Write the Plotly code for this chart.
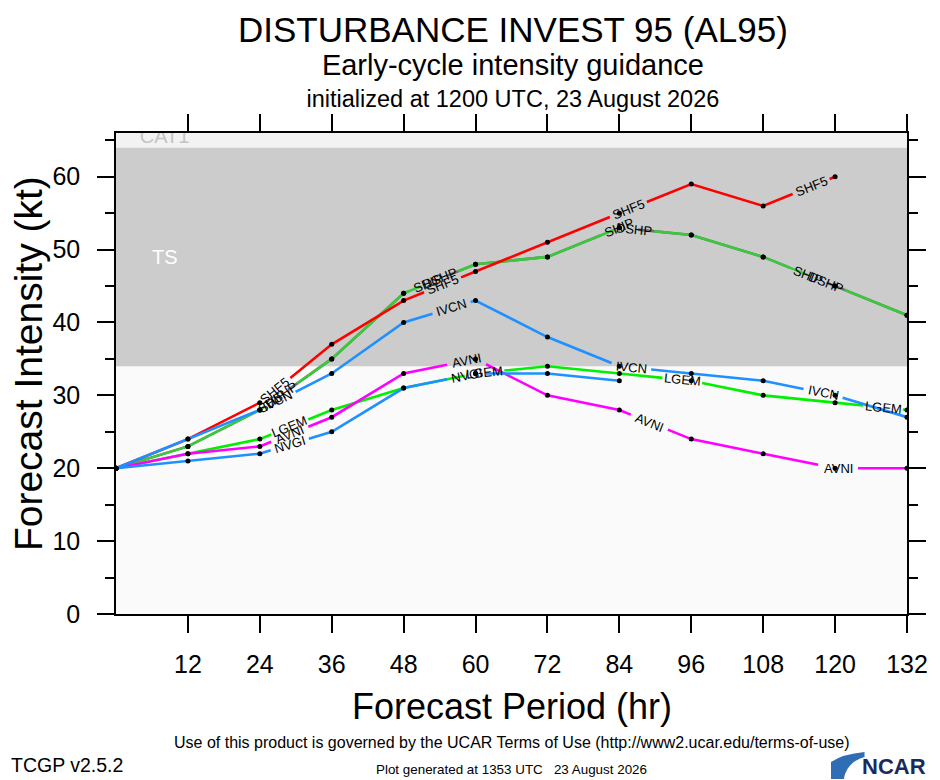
import math
import numpy as np
import plotly.graph_objects as go

# ---- data ----
hours = [0, 12, 24, 36, 48, 60, 72, 84, 96, 108, 120, 132]

ship = [20, 23, 28, 35, 44, 48, 49, 53, 52, 49, 45, 41]
dshp = [20, 23, 28, 35, 44, 48, 49, 53, 52, 49, 45, 41]
lgem = [20, 22, 24, 28, 31, 33, 34, 33, 32, 30, 29, 28]
shf5 = [20, 24, 29, 37, 43, 47, 51, 55, 59, 56, 60, None]
avni = [20, 22, 23, 27, 33, 35, 30, 28, 24, 22, 20, 20]
nvgi = [20, 21, 22, 25, 31, 33, 33, 32, None, None, None, None]
ivcn = [20, 24, 28, 33, 40, 43, 38, 34, 33, 32, 30, 27]

xticks = [12, 24, 36, 48, 60, 72, 84, 96, 108, 120, 132]

# intensity bands (kt)
band_lo = [0, 34, 64]
band_hi = [34, 64, 83]
band_names = ["", "TS", "CAT1"]
band_colors = ["#fafafa", "#cccccc", "#f2f2f2"]

# ---- geometry (page pixels; the page puts the figure 8px in from the corner) ----
OFF = 8
W, H = 940 - OFF, 780 - OFF
L, R, T, B = 116 - OFF, 23, 133 - OFF, 166
XMAX, YMAX = 132, 66
PW, PH = W - L - R, H - T - B
PXH = PW / XMAX   # pixels per hour
PXK = PH / YMAX   # pixels per knot
FONT = "Liberation Sans, Arial, Helvetica, sans-serif"
LABEL_SIZE = 13


def paper_x(X):
    return (X - OFF - L) / PW


def paper_y(Y):
    return (H - B - (Y - OFF)) / PH


def gapped(h, v, label_hours, text):
    """line with breaks where the text labels sit, plus label placement"""
    pts = [(a, b) for a, b in zip(h, v) if b is not None]
    h = np.array([p[0] for p in pts], float)
    v = np.array([p[1] for p in pts], float)
    gap = 0.66 * LABEL_SIZE * len(text) + 6
    cuts, labels = [], []
    for hc in label_hours:
        i = min(max(int(np.searchsorted(h, hc)), 1), len(h) - 1)
        slope = (v[i] - v[i - 1]) * PXK / ((h[i] - h[i - 1]) * PXH)
        th = math.atan(slope)
        dh = gap / 2 * math.cos(th) / PXH
        cuts.append((hc - dh, min(hc + dh, h[-1])))
        labels.append((hc, float(np.interp(hc, h, v)), -math.degrees(th)))
    xs, ys = [], []
    start = h[0]
    for a, b in cuts + [(h[-1], None)]:
        seg = [start] + [k for k in h if start < k < a] + [a]
        xs += seg + [None]
        ys += list(np.interp(seg, h, v)) + [None]
        start = b
    return xs, ys, labels


# name, values, colour, label positions (hr)
series = [
    ("SHIP", ship, "#6e6e6e", [26.0, 52.0, 84.0, 115.5]),
    ("DSHP", dshp, "#3cc83c", [27.5, 54.0, 86.5, 118.5]),
    ("LGEM", lgem, "#00f000", [29.0, 61.5, 94.5, 128.0]),
    ("SHF5", shf5, "#ff0000", [26.5, 54.5, 85.5, 116.0]),
    ("AVNI", avni, "#ff00ff", [29.0, 58.5, 89.0, 120.5]),
    ("NVGI", nvgi, "#1e90ff", [29.0, 58.5]),
    ("IVCN", ivcn, "#1e90ff", [27.0, 56.0, 86.0, 118.0]),
]

fig = go.Figure()

# bands
for lo, hi, col in zip(band_lo, band_hi, band_colors):
    fig.add_shape(type="rect", xref="x", yref="y", x0=0, x1=XMAX, y0=lo, y1=hi,
                  fillcolor=col, line_width=0, layer="below")

annotations = []
for name, vals, col, lab_h in series:
    xs, ys, labs = gapped(hours, vals, lab_h, name)
    fig.add_trace(go.Scatter(x=xs, y=ys, mode="lines", name=name,
                             line=dict(color=col, width=2.6), showlegend=False,
                             hoverinfo="skip"))
    for hc, vc, ang in labs:
        annotations.append(dict(x=hc, y=vc, xref="x", yref="y", text=name,
                                showarrow=False, textangle=ang,
                                font=dict(family=FONT, size=LABEL_SIZE, color="black")))

# forecast points
dot_x, dot_y = [], []
for name, vals, col, lab_h in series:
    for hh, vv in zip(hours, vals):
        if vv is not None:
            dot_x.append(hh)
            dot_y.append(vv)
fig.add_trace(go.Scatter(x=dot_x, y=dot_y, mode="markers", showlegend=False,
                         marker=dict(color="black", size=5)))

# band names
fig.add_trace(go.Scatter(x=[8.1], y=[band_lo[2]], mode="text", text=[band_names[2]],
                         textposition="top center", cliponaxis=True, showlegend=False,
                         textfont=dict(family=FONT, size=20, color="#c4c4c4")))
annotations.append(dict(x=8.2, y=49, xref="x", yref="y", text=band_names[1],
                        showarrow=False, font=dict(family=FONT, size=20, color="white")))

# title block: one text, three sizes
title_txt = ("<span style='font-size:35px'>DISTURBANCE INVEST 95 (AL95)</span>"
             "<br><span style='font-size:29px'>Early-cycle intensity guidance</span>"
             "<br><span style='font-size:23.5px'>initialized at 1200 UTC, 23 August 2026</span>")

annotations += [
    dict(x=paper_x(518), y=paper_y(OFF), yanchor="top", text=title_txt,
         font=dict(family=FONT, size=25, color="black")),
    dict(x=paper_x(517), y=paper_y(706), text="Forecast Period (hr)",
         font=dict(family=FONT, size=36, color="black")),
    dict(x=paper_x(27), y=paper_y(364), text="Forecast Intensity (kt)", textangle=-90,
         font=dict(family=FONT, size=39, color="black")),
    dict(x=paper_x(517), y=paper_y(742),
         text="Use of this product is governed by the UCAR Terms of Use (http://www2.ucar.edu/terms-of-use)",
         font=dict(family=FONT, size=16, color="black")),
    dict(x=paper_x(OFF), y=paper_y(765), xanchor="left", text="TCGP v2.5.2",
         font=dict(family=FONT, size=19.5, color="black")),
    dict(x=paper_x(517), y=paper_y(769), text="Plot generated at 1353 UTC   23 August 2026",
         font=dict(family=FONT, size=13.4, color="black")),
    dict(x=paper_x(904), y=paper_y(766), text="<b>NCAR</b>",
         font=dict(family=FONT, size=22, color="#1b2a5c")),
]
for a in annotations:
    a.setdefault("xref", "paper")
    a.setdefault("yref", "paper")
    a.setdefault("showarrow", False)
    a.setdefault("xanchor", "center")
    a.setdefault("yanchor", "middle")

# NCAR swoosh
sw = [(840, 779), (840, 762), (852, 754), (874, 752), (874, 757), (856, 762), (853, 779)]
path = "M {:.4f},{:.4f} L {:.4f},{:.4f} Q {:.4f},{:.4f} {:.4f},{:.4f} L {:.4f},{:.4f} Q {:.4f},{:.4f} {:.4f},{:.4f} Z".format(
    *[c for X, Y in sw for c in (paper_x(X), paper_y(Y))])
fig.add_shape(type="path", xref="paper", yref="paper", path=path,
              fillcolor="#2f6db5", line_width=0)

axis_common = dict(showgrid=False, zeroline=False, showline=True, linecolor="black",
                   linewidth=1.5, ticks="outside", ticklen=17, tickwidth=1.5,
                   tickcolor="black", mirror="ticks",
                   tickfont=dict(family=FONT, size=25, color="black"))

fig.update_layout(
    width=W, height=H,
    margin=dict(l=L, r=R, t=T, b=B),
    paper_bgcolor="white", plot_bgcolor="#fafafa",
    annotations=annotations,
    xaxis=dict(range=[0, XMAX], tickvals=xticks, ticklabelstandoff=10, **axis_common),
    yaxis=dict(range=[0, YMAX], tick0=0, dtick=10, ticklabelstandoff=12,
               minor=dict(dtick=5, ticks="outside", ticklen=9, tickwidth=1.5,
                          tickcolor="black"),
               **axis_common),
)

fig.write_html("out.html")
